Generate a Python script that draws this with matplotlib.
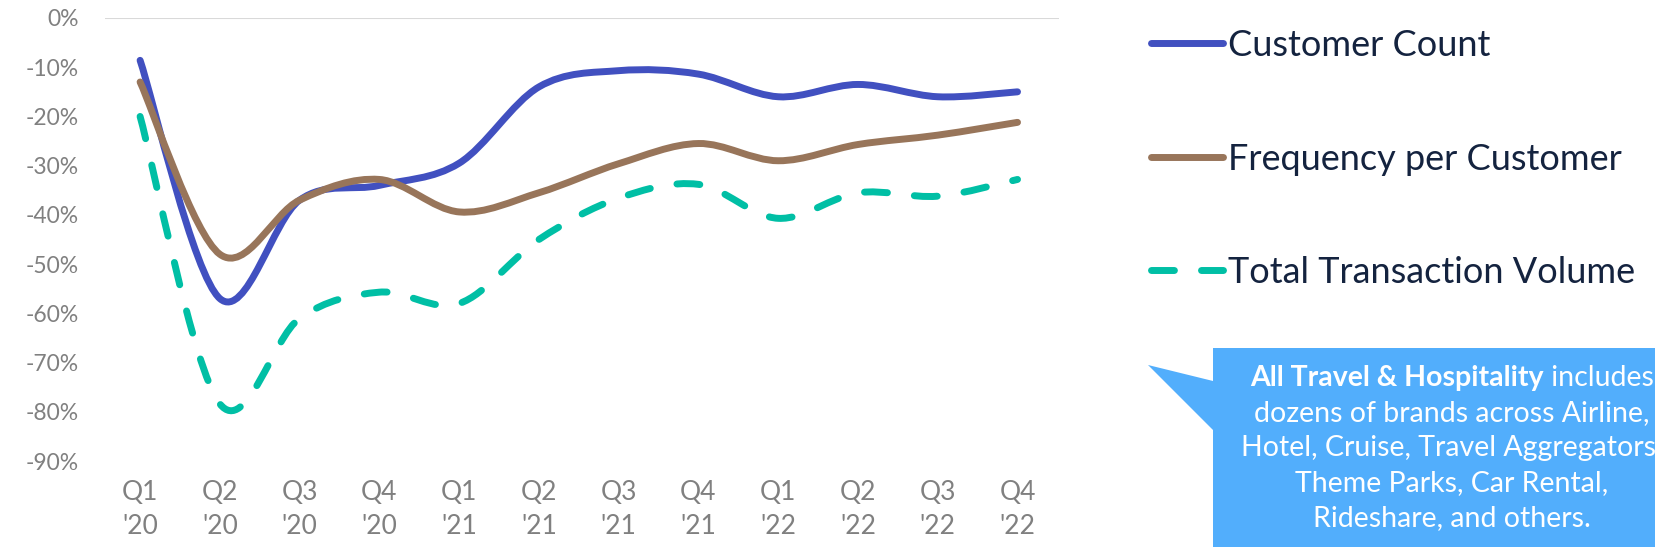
import numpy as np
import matplotlib
matplotlib.use("Agg")
import matplotlib.pyplot as plt
from matplotlib.path import Path
from matplotlib.patches import PathPatch, Polygon
from matplotlib.lines import Line2D

plt.rcParams['font.family'] = ['Lato', 'DejaVu Sans']

quarters = ["Q1\n'20", "Q2\n'20", "Q3\n'20", "Q4\n'20",
            "Q1\n'21", "Q2\n'21", "Q3\n'21", "Q4\n'21",
            "Q1\n'22", "Q2\n'22", "Q3\n'22", "Q4\n'22"]
customer_count = [-8.6, -57.0, -37.0, -34.0, -29.5, -14.0, -10.7, -11.4, -16.0, -13.5, -16.0, -15.0]
frequency = [-13.0, -48.0, -37.0, -32.8, -39.4, -35.5, -29.6, -25.5, -29.0, -25.7, -23.8, -21.2]
total_volume = [-20.0, -78.4, -61.0, -55.7, -58.0, -45.0, -36.6, -33.8, -40.7, -35.5, -36.2, -32.8]
series_names = ["Customer Count", "Frequency per Customer", "Total Transaction Volume"]
ytick_vals = [0, -10, -20, -30, -40, -50, -60, -70, -80, -90]

c_blue = '#4150c0'
c_brown = '#98755a'
c_green = '#00bfa5'
grey = '#808080'
navy = '#14233f'
dash = (0, (3.3, 3.9))


def smooth_path(xs, ys):
    # cubic bezier through every point (excel-like smoothed line)
    p = np.column_stack([xs, ys]).astype(float)
    n = len(p)
    verts = [p[0]]
    codes = [Path.MOVETO]
    for i in range(n - 1):
        p0 = p[i - 1] if i > 0 else p[i]
        p3 = p[i + 2] if i + 2 < n else p[i + 1]
        c1 = p[i] + (p[i + 1] - p0) / 6
        c2 = p[i + 1] - (p3 - p[i]) / 6
        verts += [c1, c2, p[i + 1]]
        codes += [Path.CURVE4] * 3
    return Path(verts, codes)


fig = plt.figure(figsize=(16.55, 5.55), dpi=100)
ax = fig.add_axes([105 / 1655, 1 - 461 / 555, (1059 - 105) / 1655, (461 - 18) / 555])

x = np.arange(len(quarters))
lw = 5
for vals, col, ls in [(customer_count, c_blue, '-'),
                      (frequency, c_brown, '-'),
                      (total_volume, c_green, dash)]:
    patch = PathPatch(smooth_path(x, vals), fill=False, edgecolor=col, lw=lw,
                      linestyle=ls, capstyle='round', joinstyle='round')
    ax.add_patch(patch)

ax.axhline(0, color='#d9d9d9', lw=1.5, zorder=0)
ax.set_xlim(-0.44, 11.52)
ax.set_ylim(-90, 0)
ax.set_xticks(x, quarters)
ax.set_yticks(ytick_vals, [f"{v}%" for v in ytick_vals])
for s in ax.spines.values():
    s.set_visible(False)
ax.tick_params(axis='y', length=0, pad=19, labelsize=16.5, labelcolor=grey)
ax.tick_params(axis='x', length=0, pad=14, labelsize=19, labelcolor=grey)
for t in ax.get_xticklabels():
    t.set_linespacing(1.45)

handles = [Line2D([], [], color=c_blue, lw=lw, solid_capstyle='round'),
           Line2D([], [], color=c_brown, lw=lw, solid_capstyle='round'),
           Line2D([], [], color=c_green, lw=lw, linestyle=dash, dash_capstyle='round')]
leg = fig.legend(handles, series_names, loc='upper left', bbox_to_anchor=(1151 / 1655, 1 - 29 / 555),
                 frameon=False, fontsize=26, handlelength=2.0, handletextpad=0.12,
                 labelspacing=2.23, borderaxespad=0, borderpad=0)
for t in leg.get_texts():
    t.set_color(navy)

# callout box
W, H = 1655, 555
box_col = '#52aefc'
callout = Polygon([(1213 / W, 1 - 348 / H), (1700 / W, 1 - 348 / H), (1700 / W, 1 - 547 / H),
                   (1213 / W, 1 - 547 / H), (1213 / W, 1 - 430 / H), (1148 / W, 1 - 365 / H),
                   (1213 / W, 1 - 381 / H)], closed=True, transform=fig.transFigure,
                  facecolor=box_col, edgecolor='none')
fig.add_artist(callout)

cx = 1452 / W
fs = 20.5
lines_y = [378, 413, 448, 483, 518]
body = ["dozens of brands across Airline,", "Hotel, Cruise, Travel Aggregators,",
        "Theme Parks, Car Rental,", "Rideshare, and others."]
for yy, s in zip(lines_y[1:], body):
    fig.text(cx, 1 - yy / H, s, ha='center', va='center', color='white', fontsize=fs)

b = fig.text(0, 1 - lines_y[0] / H, "All Travel & Hospitality", ha='left', va='center',
             color='white', fontsize=fs, fontweight='bold')
r = fig.text(0, 1 - lines_y[0] / H, " includes", ha='left', va='center', color='white', fontsize=fs)
fig.canvas.draw()
rend = fig.canvas.get_renderer()
wb = b.get_window_extent(rend).width / W
wr = r.get_window_extent(rend).width / W
x0 = cx - (wb + wr) / 2
b.set_x(x0)
r.set_x(x0 + wb)

fig.savefig('out.png', dpi=100)
